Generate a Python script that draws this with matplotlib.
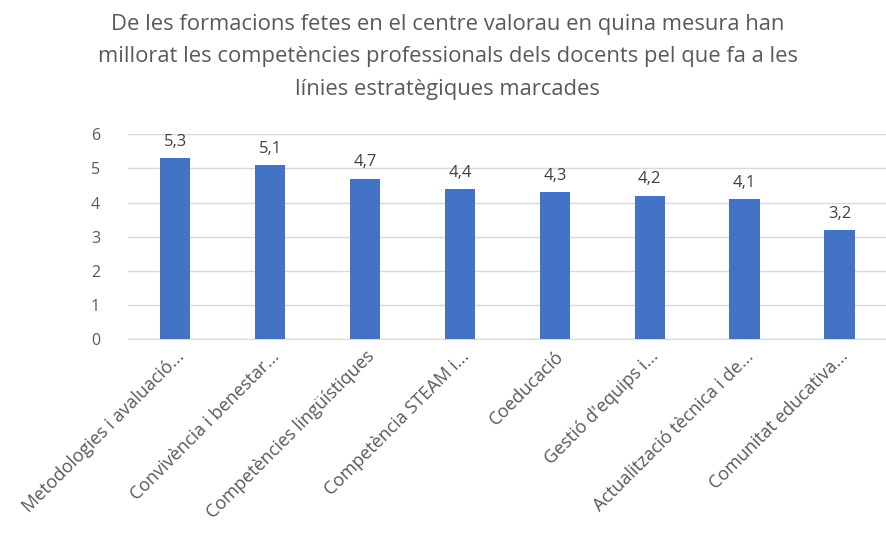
import numpy as np
import matplotlib.pyplot as plt

categories = [
    "Metodologies i avaluació...",
    "Convivència i benestar...",
    "Competències lingüístiques",
    "Competència STEAM i...",
    "Coeducació",
    "Gestió d'equips i...",
    "Actualització tècnica i de...",
    "Comunitat educativa...",
]
values = [5.3, 5.1, 4.7, 4.4, 4.3, 4.2, 4.1, 3.2]
value_labels = ["5,3", "5,1", "4,7", "4,4", "4,3", "4,2", "4,1", "3,2"]
y_ticks = [0, 1, 2, 3, 4, 5, 6]

TITLE = ("De les formacions fetes en el centre valorau en quina mesura han\n"
         "millorat les competències professionals dels docents pel que fa a les\n"
         "línies estratègiques marcades")

plt.rcParams["font.family"] = ["Open Sans", "DejaVu Sans"]

fig = plt.figure(figsize=(8.87, 5.41), dpi=100)
ax = fig.add_axes([0.144, 0.373, 0.856, 0.379])

x = np.arange(len(categories))
ax.bar(x, values, width=0.32, color="#4472C4", zorder=3)

for xi, v, lab in zip(x, values, value_labels):
    ax.annotate(lab, (xi, v), xytext=(0, 6), textcoords="offset points",
                ha="center", va="bottom", fontsize=12, color="#404040")

ax.set_xlim(-0.5, len(categories) - 0.5)
ax.set_ylim(0, 6)
ax.set_yticks(y_ticks)
ax.set_yticklabels([str(t) for t in y_ticks], fontsize=11.5, color="#595959")
ax.set_xticks(x)
ax.set_xticklabels(categories, rotation=45, ha="right", rotation_mode="anchor",
                   fontsize=13, color="#595959")

ax.grid(axis="y", color="#d9d9d9", linewidth=1.0, zorder=0)
for s in ["top", "right", "left"]:
    ax.spines[s].set_visible(False)
ax.spines["bottom"].set_color("#d9d9d9")
ax.tick_params(axis="x", length=0, pad=6)
ax.tick_params(axis="y", length=0, pad=20)

fig.text(0.505, 0.975, TITLE, ha="center", va="top", fontsize=15.8,
         color="#595959", linespacing=1.72)

fig.savefig("out.png", dpi=100)
